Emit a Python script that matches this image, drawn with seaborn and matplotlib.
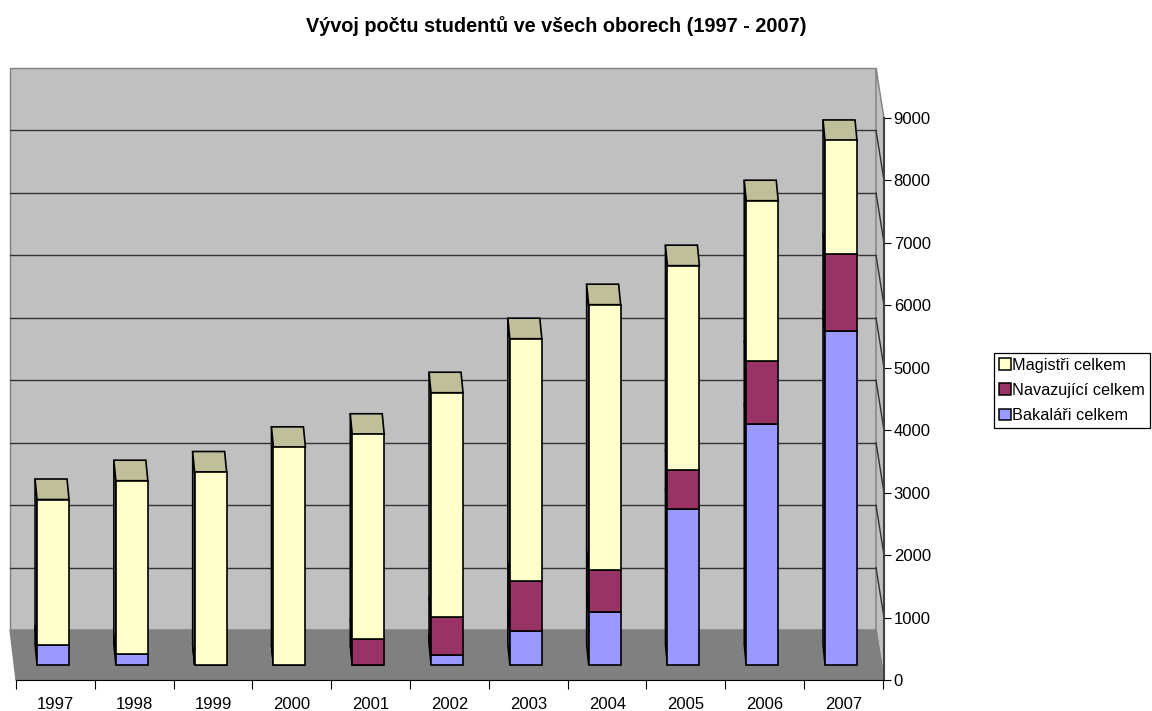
import numpy as np
import pandas as pd
import matplotlib.pyplot as plt
import seaborn as sns
from matplotlib.patches import Polygon, Patch

years = ['1997', '1998', '1999', '2000', '2001', '2002', '2003', '2004', '2005', '2006', '2007']
bakalari = [315, 181, 0, 0, 0, 160, 545, 850, 2500, 3860, 5350]
navazujici = [0, 0, 0, 0, 415, 610, 800, 670, 625, 1010, 1235]
magistri = [2335, 2770, 3090, 3485, 3280, 3590, 3880, 4250, 3270, 2565, 1815]

series_names = ['Bakaláři celkem', 'Navazující celkem', 'Magistři celkem']
series_values = [bakalari, navazujici, magistri]
series_colors = ['#9999FF', '#993366', '#FFFFCC']
side_colors = ['#4C4C80', '#4C1A33', '#808066']
top_color = '#BFBF99'
y_ticks = list(range(0, 10000, 1000))

sns.set_theme(style='white')
plt.rcParams['font.family'] = ['Liberation Sans', 'DejaVu Sans']

fig = plt.figure(figsize=(11.52, 7.11), dpi=100)
ax = fig.add_axes([16 / 1152, 1 - 680 / 711, 868 / 1152, 562 / 711])

# sizes of one pixel in data units, used for the fake 3d depth
xpx = 1 / 78.8
ypx = 1000 / 62.4
xlim = (-37 * xpx, 10 + 43 * xpx)
floor = 15 * ypx       # bars stand a bit in front of the axis line
wall_up = 50 * ypx     # back wall is shifted up by this
bar_dx = 2 * xpx
bar_dy = 20.5 * ypx
width = 32 * xpx

# back wall, floor, side wall
wl = xlim[0] - 6 * xpx
wr = xlim[1] - 8 * xpx
ax.add_patch(Polygon([(wl, wall_up), (wr, wall_up), (wr, 9000 + wall_up), (wl, 9000 + wall_up)],
                     fc='#C0C0C0', ec='#808080', lw=1, clip_on=False, zorder=0.1))
ax.add_patch(Polygon([(wr, wall_up), (xlim[1], 0), (xlim[1], 9000), (wr, 9000 + wall_up)],
                     fc='#C0C0C0', ec='#808080', lw=1, clip_on=False, zorder=0.1))
ax.add_patch(Polygon([(wl, wall_up), (wr, wall_up), (xlim[1], 0), (xlim[0], 0)],
                     fc='#808080', ec='#808080', lw=1, clip_on=False, zorder=0.15))
for v in y_ticks[1:-1]:
    ax.plot([wl, wr], [v + wall_up, v + wall_up], color='#333333', lw=1, zorder=0.2, clip_on=False)
    ax.plot([wr, xlim[1]], [v + wall_up, v], color='#333333', lw=1, zorder=0.2, clip_on=False)

bottom = np.full(len(years), floor)
for name, values, color, side in zip(series_names, series_values, series_colors, side_colors):
    df = pd.DataFrame({'year': years, 'value': values})
    sns.barplot(data=df, x='year', y='value', color=color, saturation=1, width=width,
                bottom=bottom, edgecolor='black', linewidth=1.2, ax=ax, zorder=1, errorbar=None)
    for i, v in enumerate(values):
        x0 = i - width / 2
        ax.add_patch(Polygon([(x0, bottom[i]), (x0, bottom[i] + v),
                              (x0 - bar_dx, bottom[i] + v + bar_dy), (x0 - bar_dx, bottom[i] + bar_dy)],
                             fc=side, ec='black', lw=1.1, zorder=0.9))
    bottom = bottom + np.array(values)

# caps on top of the stacks
for i, t in enumerate(bottom):
    x0 = i - width / 2
    x1 = i + width / 2
    ax.add_patch(Polygon([(x0, t), (x1, t), (x1 - bar_dx, t + bar_dy), (x0 - bar_dx, t + bar_dy)],
                         fc=top_color, ec='black', lw=1.2, zorder=0.95))

ax.set_xlim(*xlim)
ax.set_ylim(0, 9000)
ax.patch.set_visible(False)
ax.set_xlabel('')
ax.set_ylabel('')

ax.yaxis.tick_right()
ax.set_yticks(y_ticks)
ax.tick_params(axis='y', length=5, width=0.8, color='black', labelsize=12, pad=2, labelcolor='black', right=True)

ax.set_xticks(np.arange(len(years)) + 0.035)
ax.set_xticklabels(years)
ax.set_xticks(np.arange(len(years) + 1) - 0.47, minor=True)
ax.tick_params(axis='x', which='major', length=0, labelsize=12, pad=12.5, labelcolor='black')
ax.tick_params(axis='x', which='minor', length=6.5, width=0.8, color='black', bottom=True)

for s in ['top', 'left']:
    ax.spines[s].set_visible(False)
ax.spines['bottom'].set_color('black')
ax.spines['bottom'].set_linewidth(0.8)
ax.spines['right'].set_color('#404040')
ax.spines['right'].set_linewidth(1.5)

fig.text(556 / 1152, 1 - 26 / 711, 'Vývoj počtu studentů ve všech oborech (1997 - 2007)',
         ha='center', va='center', fontsize=14.3, fontweight='bold', color='black')

handles = [Patch(fc=c, ec='black', lw=1.1, label=n)
           for n, c in zip(series_names[::-1], series_colors[::-1])]
leg = fig.legend(handles=handles, loc='upper left', bbox_to_anchor=(994 / 1152, 1 - 353 / 711),
                 bbox_transform=fig.transFigure, borderaxespad=0, fontsize=11.7, frameon=True,
                 fancybox=False, edgecolor='black', framealpha=1, handlelength=0.72, handleheight=0.72,
                 handletextpad=0.1, borderpad=0.3, labelspacing=0.62, labelcolor='black')
leg.get_frame().set_linewidth(0.9)

fig.savefig('out.png', dpi=100)
